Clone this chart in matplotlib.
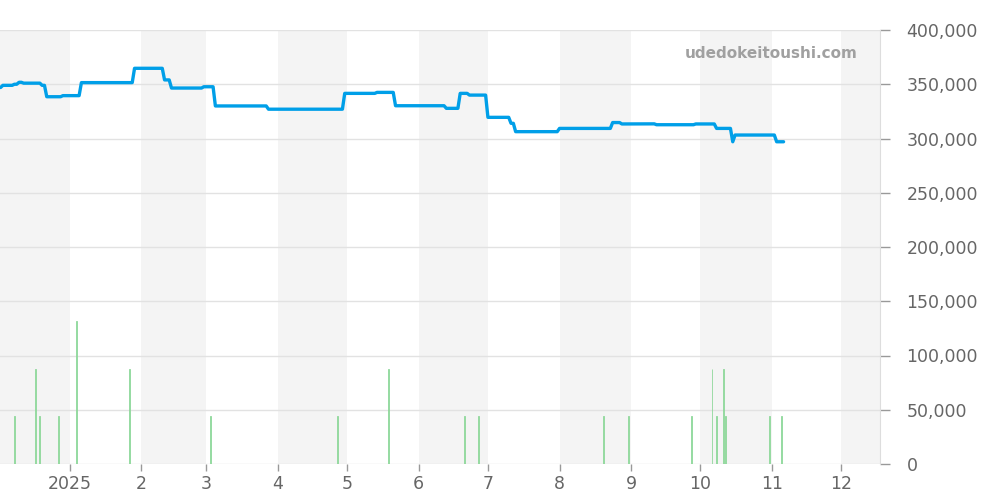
import numpy as np
import pandas as pd
import matplotlib
matplotlib.use("Agg")
import matplotlib.pyplot as plt
import matplotlib.dates as mdates
from matplotlib.ticker import FuncFormatter

# ---------------- data ----------------
# price level changes (date the level starts, yen)
priceDates = ["2024-12-02", "2024-12-03", "2024-12-08", "2024-12-10", "2024-12-12",
              "2024-12-20", "2024-12-22", "2024-12-29", "2025-01-06",
              "2025-01-29", "2025-02-11", "2025-02-14",
              "2025-02-28", "2025-03-05", "2025-03-28",
              "2025-04-30", "2025-05-14", "2025-05-22", "2025-06-13",
              "2025-06-19", "2025-06-23", "2025-07-01", "2025-07-11",
              "2025-07-13", "2025-08-01", "2025-08-24", "2025-08-28",
              "2025-09-04", "2025-09-12", "2025-09-29", "2025-10-08", "2025-10-15",
              "2025-10-16", "2025-11-03", "2025-11-06"]
priceValues = [347000, 349000, 350000, 351800, 351000,
               349000, 338500, 339500, 351500,
               364700, 354000, 346500,
               347700, 330000, 327000,
               341600, 342500, 330200, 327800,
               341600, 340000, 319500, 314000,
               306300, 309300, 314700, 313400,
               313500, 312700, 313400, 309300, 297000,
               303200, 297000, 297000]

# volume spikes (date, value)
volDates = ["2024-12-08", "2024-12-17", "2024-12-19", "2024-12-27", "2025-01-04", "2025-01-27",
            "2025-03-03", "2025-04-27", "2025-05-19", "2025-06-21", "2025-06-27", "2025-08-20",
            "2025-08-31", "2025-09-27", "2025-10-06", "2025-10-08", "2025-10-11", "2025-10-12",
            "2025-10-31", "2025-11-05"]
volValues = [44000, 88000, 44000, 44000, 132000, 88000,
             44000, 44000, 88000, 44000, 44000, 44000,
             44000, 44000, 88000, 44000, 88000, 44000,
             44000, 44000]

# ---------------- style ----------------
LINE_COLOR = "#009fe8"
VOL_COLOR = "#8fd89b"
BAND_COLOR = "#f4f4f4"
GRID_COLOR = "#e2e2e2"
TEXT_COLOR = "#666666"

xStart = pd.Timestamp("2024-12-01 18:00")
xEnd = pd.Timestamp("2025-12-17 18:00")

# daily price series: each level holds until the next change
price = pd.Series(priceValues, index=pd.to_datetime(priceDates))
price = price.reindex(pd.date_range(price.index[0], price.index[-1], freq="D")).ffill()

# daily volume series (zero on days without trades)
days = pd.date_range("2024-12-02", "2025-12-14", freq="D")
vol = pd.Series(0, index=days)
vol.loc[pd.to_datetime(volDates)] = volValues

fig = plt.figure(figsize=(10, 5), dpi=100)
ax = fig.add_axes([0.0, 0.072, 0.88, 0.868])

# alternating month bands
monthStarts = pd.date_range("2024-12-01", "2026-01-01", freq="MS")
for i in range(len(monthStarts) - 1):
    if i % 2 == 0:
        ax.axvspan(monthStarts[i], monthStarts[i + 1], color=BAND_COLOR, lw=0, zorder=0)

ax.bar(vol.index, vol.values, width=0.4, color=VOL_COLOR, edgecolor=VOL_COLOR,
       linewidth=0.6, zorder=2)
ax.plot(price.index, price.values, color=LINE_COLOR, lw=2.4, zorder=3,
        solid_joinstyle="round", solid_capstyle="round")

ax.set_xlim(xStart, xEnd)
ax.set_ylim(0, 400000)

ax.yaxis.tick_right()
ax.set_yticks(np.arange(0, 400001, 50000))
ax.yaxis.set_major_formatter(FuncFormatter(lambda v, p: f"{int(v):,}"))
ax.grid(axis="y", color=GRID_COLOR, lw=1, zorder=1)
ax.set_axisbelow(True)

ax.xaxis.set_major_locator(mdates.MonthLocator(bymonth=range(1, 13)))
ax.xaxis.set_major_formatter(FuncFormatter(
    lambda v, p: str(mdates.num2date(v).year) if mdates.num2date(v).month == 1
    else str(mdates.num2date(v).month)))

ax.tick_params(axis="both", colors="#999999", labelcolor=TEXT_COLOR, labelsize=12.5, width=1)
ax.tick_params(axis="y", length=7, pad=12)
ax.tick_params(axis="x", length=5, pad=3)

for side in ["top", "left", "bottom"]:
    ax.spines[side].set_visible(False)
ax.spines["right"].set_color("#dddddd")

ax.text(0.975, 0.945, "udedokeitoushi.com", transform=ax.transAxes, ha="right", va="center",
        fontsize=11, fontweight="bold", color="#a0a0a0")

fig.savefig("out.png")
